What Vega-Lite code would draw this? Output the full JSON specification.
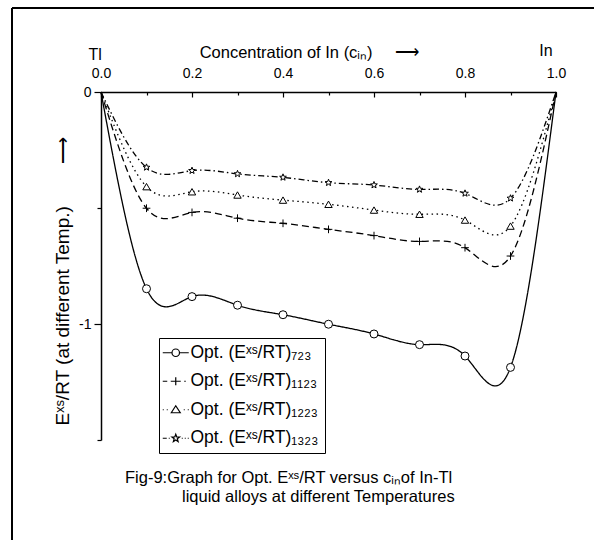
{
  "$schema": "https://vega.github.io/schema/vega-lite/v6.json",
  "width": 455,
  "height": 348,
  "autosize": {"type": "none"},
  "padding": {"left": 101, "top": 92, "right": 38, "bottom": 100},
  "background": "white",
  "config": {
    "font": "Liberation Sans",
    "view": {"stroke": null},
    "axis": {"grid": false, "domainColor": "black", "tickColor": "black", "labelColor": "black", "titleColor": "black", "titleFontWeight": "normal", "labelFont": "Liberation Sans", "titleFont": "Liberation Sans"}
  },
  "datasets": {
    "curves": [
      {"s": "Opt. (Eˣˢ/RT)₇₂₃", "x": 0, "y": 0},
      {"s": "Opt. (Eˣˢ/RT)₇₂₃", "x": 0.1, "y": -0.848},
      {"s": "Opt. (Eˣˢ/RT)₇₂₃", "x": 0.2, "y": -0.882},
      {"s": "Opt. (Eˣˢ/RT)₇₂₃", "x": 0.3, "y": -0.919},
      {"s": "Opt. (Eˣˢ/RT)₇₂₃", "x": 0.4, "y": -0.96},
      {"s": "Opt. (Eˣˢ/RT)₇₂₃", "x": 0.5, "y": -1.001},
      {"s": "Opt. (Eˣˢ/RT)₇₂₃", "x": 0.6, "y": -1.043},
      {"s": "Opt. (Eˣˢ/RT)₇₂₃", "x": 0.7, "y": -1.089},
      {"s": "Opt. (Eˣˢ/RT)₇₂₃", "x": 0.8, "y": -1.138},
      {"s": "Opt. (Eˣˢ/RT)₇₂₃", "x": 0.9, "y": -1.187},
      {"s": "Opt. (Eˣˢ/RT)₇₂₃", "x": 1, "y": 0},
      {"s": "Opt. (Eˣˢ/RT)₁₁₂₃", "x": 0, "y": 0},
      {"s": "Opt. (Eˣˢ/RT)₁₁₂₃", "x": 0.1, "y": -0.501},
      {"s": "Opt. (Eˣˢ/RT)₁₁₂₃", "x": 0.2, "y": -0.519},
      {"s": "Opt. (Eˣˢ/RT)₁₁₂₃", "x": 0.3, "y": -0.544},
      {"s": "Opt. (Eˣˢ/RT)₁₁₂₃", "x": 0.4, "y": -0.566},
      {"s": "Opt. (Eˣˢ/RT)₁₁₂₃", "x": 0.5, "y": -0.592},
      {"s": "Opt. (Eˣˢ/RT)₁₁₂₃", "x": 0.6, "y": -0.619},
      {"s": "Opt. (Eˣˢ/RT)₁₁₂₃", "x": 0.7, "y": -0.644},
      {"s": "Opt. (Eˣˢ/RT)₁₁₂₃", "x": 0.8, "y": -0.671},
      {"s": "Opt. (Eˣˢ/RT)₁₁₂₃", "x": 0.9, "y": -0.707},
      {"s": "Opt. (Eˣˢ/RT)₁₁₂₃", "x": 1, "y": 0},
      {"s": "Opt. (Eˣˢ/RT)₁₂₂₃", "x": 0, "y": 0},
      {"s": "Opt. (Eˣˢ/RT)₁₂₂₃", "x": 0.1, "y": -0.408},
      {"s": "Opt. (Eˣˢ/RT)₁₂₂₃", "x": 0.2, "y": -0.43},
      {"s": "Opt. (Eˣˢ/RT)₁₂₂₃", "x": 0.3, "y": -0.444},
      {"s": "Opt. (Eˣˢ/RT)₁₂₂₃", "x": 0.4, "y": -0.466},
      {"s": "Opt. (Eˣˢ/RT)₁₂₂₃", "x": 0.5, "y": -0.484},
      {"s": "Opt. (Eˣˢ/RT)₁₂₂₃", "x": 0.6, "y": -0.509},
      {"s": "Opt. (Eˣˢ/RT)₁₂₂₃", "x": 0.7, "y": -0.527},
      {"s": "Opt. (Eˣˢ/RT)₁₂₂₃", "x": 0.8, "y": -0.552},
      {"s": "Opt. (Eˣˢ/RT)₁₂₂₃", "x": 0.9, "y": -0.578},
      {"s": "Opt. (Eˣˢ/RT)₁₂₂₃", "x": 1, "y": 0},
      {"s": "Opt. (Eˣˢ/RT)₁₃₂₃", "x": 0, "y": 0},
      {"s": "Opt. (Eˣˢ/RT)₁₃₂₃", "x": 0.1, "y": -0.325},
      {"s": "Opt. (Eˣˢ/RT)₁₃₂₃", "x": 0.2, "y": -0.339},
      {"s": "Opt. (Eˣˢ/RT)₁₃₂₃", "x": 0.3, "y": -0.353},
      {"s": "Opt. (Eˣˢ/RT)₁₃₂₃", "x": 0.4, "y": -0.368},
      {"s": "Opt. (Eˣˢ/RT)₁₃₂₃", "x": 0.5, "y": -0.391},
      {"s": "Opt. (Eˣˢ/RT)₁₃₂₃", "x": 0.6, "y": -0.401},
      {"s": "Opt. (Eˣˢ/RT)₁₃₂₃", "x": 0.7, "y": -0.42},
      {"s": "Opt. (Eˣˢ/RT)₁₃₂₃", "x": 0.8, "y": -0.437},
      {"s": "Opt. (Eˣˢ/RT)₁₃₂₃", "x": 0.9, "y": -0.458},
      {"s": "Opt. (Eˣˢ/RT)₁₃₂₃", "x": 1, "y": 0}
    ],
    "frame": [
      {"x": -0.1956, "x2": -0.1956, "y": 0.362, "y2": -2.0},
      {"x": -0.1956, "x2": 1.2, "y": 0.362, "y2": 0.362}
    ],
    "ends": [
      {"text": "Tl", "x": -0.013, "y": 0.161},
      {"text": "In", "x": 0.978, "y": 0.175}
    ],
    "caption": [
      {"text": "Fig-9:Graph for Opt. Eˣˢ/RT versus cᵢₙof In-Tl", "x": 0.0527, "y": -1.662},
      {"text": "liquid alloys at different Temperatures", "x": 0.178, "y": -1.746}
    ]
  },
  "layer": [
    {
      "data": {"name": "frame"},
      "mark": {"type": "rule", "color": "black", "strokeWidth": 2},
      "encoding": {
        "x": {"field": "x", "type": "quantitative"},
        "x2": {"field": "x2"},
        "y": {"field": "y", "type": "quantitative"},
        "y2": {"field": "y2"}
      }
    },
    {
      "data": {"name": "curves"},
      "mark": {"type": "line", "interpolate": "natural", "color": "black", "strokeWidth": 1.3},
      "encoding": {
        "x": {
          "field": "x", "type": "quantitative",
          "scale": {"domain": [0, 1], "nice": false, "zero": false},
          "axis": {
            "orient": "top",
            "values": [0, 0.1, 0.2, 0.3, 0.4, 0.5, 0.6, 0.7, 0.8, 0.9, 1],
            "format": ".1f",
            "labelExpr": "round(datum.value*10)%2==0 ? datum.label : ''",
            "tickSize": {"condition": {"test": "round(datum.value*10)%2==0", "value": -5}, "value": -3},
            "labelPadding": 17,
            "labelFontSize": 14,
            "labelFlush": false,
            "domainWidth": 1.5,
            "tickWidth": 1.2,
            "title": "Concentration of In (cᵢₙ)\u00a0\u00a0\u00a0\u00a0\u00a0⟶",
            "titleFontSize": 16.5,
            "titleX": 208,
            "titleY": -35,
            "titleBaseline": "alphabetic",
            "titleAlign": "center"
          }
        },
        "y": {
          "field": "y", "type": "quantitative",
          "scale": {"domain": [-1.5, 0], "nice": false, "zero": false},
          "axis": {
            "orient": "left",
            "values": [0, -0.5, -1, -1.5],
            "labelExpr": "datum.value==0 ? '0' : (datum.value==-1 ? '-1' : '')",
            "tickSize": {"condition": {"test": "datum.value==0 || datum.value==-1", "value": 7}, "value": 4},
            "labelPadding": 3,
            "labelFontSize": 14,
            "labelFlush": false,
            "domainWidth": 1.5,
            "tickWidth": 1.2,
            "title": "Eˣˢ/RT (at different Temp.)\u00a0\u00a0\u00a0\u00a0\u00a0\u00a0\u00a0\u00a0⟶",
            "titleFontSize": 19,
            "titleX": -39,
            "titleY": 333,
            "titleBaseline": "middle",
            "titleAlign": "left"
          }
        },
        "strokeDash": {
          "field": "s", "type": "nominal",
          "scale": {
            "domain": ["Opt. (Eˣˢ/RT)₇₂₃", "Opt. (Eˣˢ/RT)₁₁₂₃", "Opt. (Eˣˢ/RT)₁₂₂₃", "Opt. (Eˣˢ/RT)₁₃₂₃"],
            "range": [[1, 0], [7, 4], [1.5, 3.5], [6, 3, 1.5, 3]]
          },
          "legend": null
        }
      }
    },
    {
      "data": {"name": "curves"},
      "transform": [{"filter": "datum.x > 0 && datum.x < 1"}],
      "mark": {"type": "point", "filled": true, "fill": "white", "stroke": "black", "strokeWidth": 1, "opacity": 1},
      "encoding": {
        "x": {"field": "x", "type": "quantitative"},
        "y": {"field": "y", "type": "quantitative"},
        "shape": {
          "field": "s", "type": "nominal",
          "scale": {
            "domain": ["Opt. (Eˣˢ/RT)₇₂₃", "Opt. (Eˣˢ/RT)₁₁₂₃", "Opt. (Eˣˢ/RT)₁₂₂₃", "Opt. (Eˣˢ/RT)₁₃₂₃"],
            "range": ["circle", "M-1,0H1M0,-1V1", "triangle-up", "M0,-1L0.247,-0.34L0.951,-0.309L0.399,0.13L0.588,0.809L0,0.42L-0.588,0.809L-0.399,0.13L-0.951,-0.309L-0.247,-0.34Z"]
          },
          "legend": null
        },
        "size": {
          "field": "s", "type": "nominal",
          "scale": {
            "domain": ["Opt. (Eˣˢ/RT)₇₂₃", "Opt. (Eˣˢ/RT)₁₁₂₃", "Opt. (Eˣˢ/RT)₁₂₂₃", "Opt. (Eˣˢ/RT)₁₃₂₃"],
            "range": [64, 50, 75, 70]
          },
          "legend": null
        }
      }
    },
    {
      "data": {"name": "curves"},
      "transform": [{"filter": "datum.x > 5"}],
      "mark": {"type": "point", "filled": false, "stroke": "black", "strokeWidth": 1.2, "opacity": 1},
      "encoding": {
        "shape": {
          "field": "s", "type": "nominal",
          "scale": {
            "domain": ["Opt. (Eˣˢ/RT)₇₂₃", "Opt. (Eˣˢ/RT)₁₁₂₃", "Opt. (Eˣˢ/RT)₁₂₂₃", "Opt. (Eˣˢ/RT)₁₃₂₃"],
            "range": [
              "M-2.6,0H-0.75M0.75,0H2.6M0.75,0A0.75,0.75 0 1 1 -0.75,0A0.75,0.75 0 1 1 0.75,0",
              "M-2.6,0H-1.7M-1.0,0H1.0M0,-0.8V0.8M1.7,0H2.0",
              "M-2.6,0H-2.4M-1.8,0H-1.6M-0.9,0.6L0,-0.8L0.9,0.6ZM1.6,0H1.8M2.4,0H2.6",
              "M-2.6,0H-1.8M-1.4,0H-1.2M0,-0.8L0.194,-0.267L0.761,-0.247L0.314,0.102L0.47,0.647L0,0.33L-0.47,0.647L-0.314,0.102L-0.761,-0.247L-0.194,-0.267ZM1.2,0H1.4M1.8,0H2.0M2.4,0H2.6"
            ]
          },
          "legend": {
            "title": null,
            "orient": "none",
            "legendX": 58,
            "legendY": 246,
            "strokeColor": "black",
            "padding": 6,
            "symbolSize": 100,
            "symbolStrokeWidth": 1.2,
            "symbolStrokeColor": "black",
            "symbolOffset": 2,
            "labelOffset": 6,
            "labelFontSize": 17.5,
            "labelFont": "Liberation Sans",
            "labelColor": "black",
            "labelLimit": 400,
            "rowPadding": 9.5
          }
        }
      }
    },
    {
      "data": {"name": "ends"},
      "mark": {"type": "text", "align": "center", "baseline": "middle", "fontSize": 16, "font": "Liberation Sans", "color": "black"},
      "encoding": {
        "x": {"field": "x", "type": "quantitative"},
        "y": {"field": "y", "type": "quantitative"},
        "text": {"field": "text"}
      }
    },
    {
      "data": {"name": "caption"},
      "mark": {"type": "text", "align": "left", "baseline": "middle", "fontSize": 16.5, "font": "Liberation Sans", "color": "black"},
      "encoding": {
        "x": {"field": "x", "type": "quantitative"},
        "y": {"field": "y", "type": "quantitative"},
        "text": {"field": "text"}
      }
    }
  ],
  "resolve": {"scale": {"shape": "independent", "size": "independent"}}
}
